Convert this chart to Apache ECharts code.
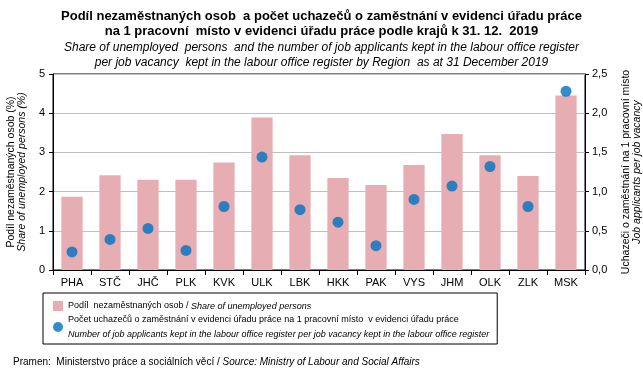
<!DOCTYPE html>
<html>
<head>
<meta charset="utf-8">
<title>Podíl nezaměstnaných osob</title>
<script src="https://cdn.jsdelivr.net/npm/echarts@6/dist/echarts.min.js"></script>
<style>
  html, body { margin: 0; padding: 0; background: #fff; }
  #main { width: 643px; height: 375px; }
</style>
</head>
<body>
<div id="main"></div>
<script type="text/javascript">
// kraje
var regions = ['PHA', 'STČ', 'JHČ', 'PLK', 'KVK', 'ULK', 'LBK', 'HKK', 'PAK', 'VYS', 'JHM', 'OLK', 'ZLK', 'MSK'];
// podíl nezaměstnaných osob (%)
var shareUnemployed = [1.87, 2.42, 2.30, 2.30, 2.74, 3.89, 2.93, 2.35, 2.17, 2.68, 3.47, 2.93, 2.40, 4.45];
// uchazeči na 1 pracovní místo
var applicantsPerVacancy = [0.23, 0.39, 0.53, 0.25, 0.81, 1.44, 0.77, 0.61, 0.31, 0.90, 1.07, 1.32, 0.81, 2.28];
var leftTicks = [0, 1, 2, 3, 4, 5];
var rightTicks = [0, 0.5, 1, 1.5, 2, 2.5];

var FONT = "'Liberation Sans Narrow', 'Liberation Sans', Arial, sans-serif";

var myChart = echarts.init(document.getElementById('main'));

var option = {
    backgroundColor: '#FFFFFF',
    textStyle: { fontFamily: FONT, color: '#000' },
    title: [{
        text: 'Podíl nezaměstnaných osob  a počet uchazečů o zaměstnání v evidenci úřadu práce\nna 1 pracovní  místo v evidenci úřadu práce podle krajů k 31. 12.  2019',
        subtext: 'Share of unemployed  persons  and the number of job applicants kept in the labour office register\nper job vacancy  kept in the labour office register by Region  as at 31 December 2019',
        left: 'center',
        top: 4,
        itemGap: 1,
        textStyle: { fontFamily: FONT, fontSize: 13, fontWeight: 'bold', color: '#000', lineHeight: 15 },
        subtextStyle: { fontFamily: FONT, fontSize: 12, fontStyle: 'italic', color: '#000', lineHeight: 15 }
    }, {
        text: '{n|Pramen:  Ministerstvo práce a sociálních věcí / }{i|Source: Ministry of Labour and Social Affairs}',
        left: 8,
        top: 352,
        textStyle: {
            fontSize: 10,
            fontWeight: 'normal',
            rich: {
                n: { fontFamily: FONT, fontSize: 10, fontWeight: 'normal', color: '#000' },
                i: { fontFamily: FONT, fontSize: 10, fontWeight: 'normal', color: '#000', fontStyle: 'italic' }
            }
        }
    }],
    grid: {
        left: 53,
        right: 58,
        top: 74,
        bottom: 105,
        outerBoundsMode: 'none',
        show: true,
        borderColor: '#000',
        borderWidth: 1
    },
    legend: {
        orient: 'vertical',
        left: 43,
        top: 293,
        padding: [8, 8, 5, 10],
        itemGap: 4,
        itemWidth: 10,
        itemHeight: 10,
        borderColor: '#000',
        borderWidth: 1,
        data: [
            { name: 'share', icon: 'rect' },
            { name: 'jobs', icon: 'circle' }
        ],
        formatter: function (name) {
            if (name === 'share') {
                return '{n|Podíl  nezaměstnaných osob / }{i|Share of unemployed persons}';
            }
            return '{n|Počet uchazečů o zaměstnání v evidenci úřadu práce na 1 pracovní místo  v evidenci úřadu práce}\n{i|Number of job applicants kept in the labour office register per job vacancy kept in the labour office register}';
        },
        textStyle: {
            rich: {
                n: { fontFamily: FONT, fontSize: 9, color: '#000', lineHeight: 15 },
                i: { fontFamily: FONT, fontSize: 9, color: '#000', fontStyle: 'italic', lineHeight: 15 }
            }
        }
    },
    xAxis: {
        type: 'category',
        data: regions,
        axisLine: { lineStyle: { color: '#000' } },
        axisTick: { show: true, alignWithLabel: false, lineStyle: { color: '#000' } },
        axisLabel: { fontFamily: FONT, fontSize: 11, color: '#000', margin: 7 }
    },
    yAxis: [{
        type: 'value',
        min: leftTicks[0],
        max: leftTicks[leftTicks.length - 1],
        interval: 1,
        name: '{n|Podíl nezaměstnaných osob (%)}\n{i|Share of unemployed persons (%)}',
        nameLocation: 'middle',
        nameRotate: 90,
        nameGap: 21,
        nameTextStyle: {
            rich: {
                n: { fontFamily: FONT, fontSize: 10.5, color: '#000', lineHeight: 11 },
                i: { fontFamily: FONT, fontSize: 10.5, color: '#000', fontStyle: 'italic', lineHeight: 11 }
            }
        },
        axisLine: { show: true, lineStyle: { color: '#000' } },
        axisTick: { show: true, length: 4, lineStyle: { color: '#000' } },
        axisLabel: { fontFamily: FONT, fontSize: 11, color: '#000', margin: 8 },
        splitLine: { show: true, lineStyle: { color: '#BFBFBF' } }
    }, {
        type: 'value',
        min: rightTicks[0],
        max: rightTicks[rightTicks.length - 1],
        interval: 0.5,
        name: '{n|Uchazeči o zaměstnání na 1 pracovní místo}\n{i|Job applicants per job vacancy}',
        nameLocation: 'middle',
        nameRotate: 90,
        nameGap: 36,
        nameTextStyle: {
            rich: {
                n: { fontFamily: FONT, fontSize: 10.5, color: '#000', lineHeight: 11 },
                i: { fontFamily: FONT, fontSize: 10.5, color: '#000', fontStyle: 'italic', lineHeight: 11 }
            }
        },
        axisLine: { show: true, lineStyle: { color: '#000' } },
        axisTick: { show: true, length: 4, lineStyle: { color: '#000' } },
        axisLabel: {
            fontFamily: FONT, fontSize: 11, color: '#000', margin: 7,
            formatter: function (v) { return v.toFixed(1).replace('.', ','); }
        },
        splitLine: { show: false }
    }],
    series: [{
        name: 'share',
        type: 'bar',
        yAxisIndex: 0,
        barWidth: '56%',
        itemStyle: { color: '#E6AEB2' },
        data: shareUnemployed
    }, {
        name: 'jobs',
        type: 'scatter',
        yAxisIndex: 1,
        symbol: 'circle',
        symbolSize: 11,
        itemStyle: { color: '#0070C0' },
        data: applicantsPerVacancy
    }]
};

myChart.setOption(option);
</script>
</body>
</html>
